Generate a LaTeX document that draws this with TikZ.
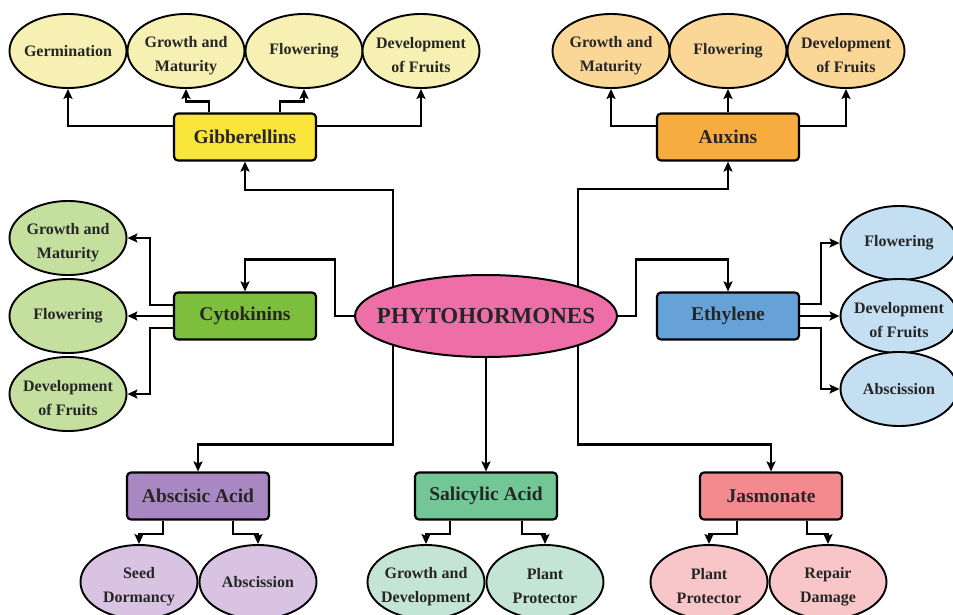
\documentclass[tikz,border=0pt]{standalone}
\usepackage{fontspec}
\setmainfont{Liberation Serif}
\usetikzlibrary{shapes.geometric,arrows.meta,backgrounds}

\definecolor{gibdark}{RGB}{249,229,58}
\definecolor{giblight}{RGB}{246,240,178}
\definecolor{auxdark}{RGB}{247,172,64}
\definecolor{auxlight}{RGB}{250,215,150}
\definecolor{cytdark}{RGB}{125,190,60}
\definecolor{cytlight}{RGB}{196,223,158}
\definecolor{ethdark}{RGB}{102,162,216}
\definecolor{ethlight}{RGB}{196,222,242}
\definecolor{phypink}{RGB}{238,110,168}
\definecolor{absdark}{RGB}{168,135,195}
\definecolor{abslight}{RGB}{216,196,226}
\definecolor{saldark}{RGB}{115,198,150}
\definecolor{sallight}{RGB}{196,228,214}
\definecolor{jasdark}{RGB}{242,138,142}
\definecolor{jaslight}{RGB}{248,198,200}

\begin{document}
\begin{tikzpicture}[x=1pt, y=-1pt,
		hormone/.style={draw, line width=2.2pt, rounded corners=4pt, minimum width=142pt, minimum height=47pt, text=black!85, font=\bfseries\fontsize{19.5}{22}\selectfont},
		effect/.style={draw, ellipse, line width=1.9pt, minimum width=117pt, minimum height=74pt, inner xsep=-12pt, inner ysep=0pt, align=center, text=black!85, font=\bfseries\fontsize{16}{24}\selectfont},
		effecttwo/.style={effect, execute at begin node={\rule{0pt}{44pt}}},
		link/.style={line width=2.2pt, -{Stealth[length=10pt, width=9pt, inset=2pt]}}]
	\useasboundingbox (0,0) rectangle (953,614);

	\node [ellipse, draw, line width=2pt, fill=phypink, minimum width=262pt, minimum height=82pt, inner xsep=-25pt, inner ysep=0pt, text=black!85, font=\bfseries\fontsize{23}{26}\selectfont] (phy) at (486,316) {PHYTOHORMONES};

	\node [hormone, fill=gibdark] (gib) at (245,137) {Gibberellins};
	\node [effect, fill=giblight] (gib1) at (68,51) {Germination};
	\node [effecttwo, fill=giblight] (gib2) at (186,51) {Growth and\\Maturity};
	\node [effect, fill=giblight] (gib3) at (304,51) {Flowering};
	\node [effecttwo, fill=giblight] (gib4) at (421,51) {Development\\of Fruits};

	\node [hormone, fill=auxdark] (aux) at (728,137) {Auxins};
	\node [effecttwo, fill=auxlight] (aux1) at (611,51) {Growth and\\Maturity};
	\node [effect, fill=auxlight] (aux2) at (728,51) {Flowering};
	\node [effecttwo, fill=auxlight] (aux3) at (846,51) {Development\\of Fruits};

	\node [hormone, fill=cytdark] (cyt) at (245,316) {Cytokinins};
	\node [effecttwo, fill=cytlight] (cyt1) at (68,238) {Growth and\\Maturity};
	\node [effect, fill=cytlight] (cyt2) at (68,316) {Flowering};
	\node [effecttwo, fill=cytlight] (cyt3) at (68,394) {Development\\of Fruits};

	\node [hormone, fill=ethdark] (eth) at (728,316) {Ethylene};
	\node [effect, fill=ethlight] (eth1) at (899,243) {Flowering};
	\node [effecttwo, fill=ethlight] (eth2) at (899,316) {Development\\of Fruits};
	\node [effect, fill=ethlight] (eth3) at (899,389) {Abscission};

	\node [hormone, fill=absdark] (abs) at (198,496) {Abscisic Acid};
	\node [effecttwo, fill=abslight] (abs1) at (139,582) {Seed\\Dormancy};
	\node [effect, fill=abslight] (abs2) at (258,582) {Abscission};

	\node [hormone, fill=saldark] (sal) at (486,496) {Salicylic Acid};
	\node [effecttwo, fill=sallight] (sal1) at (426,582) {Growth and\\Development};
	\node [effecttwo, fill=sallight] (sal2) at (545,582) {Plant\\Protector};

	\node [hormone, fill=jasdark] (jas) at (771,496) {Jasmonate};
	\node [effecttwo, fill=jaslight] (jas1) at (709,582) {Plant\\Protector};
	\node [effecttwo, fill=jaslight] (jas2) at (828,582) {Repair\\Damage};

	\begin{scope}[on background layer]
		\draw [link] ([xshift=-93pt]phy.center) |- ([yshift=-28pt]gib.south) -- (gib.south);
		\draw [link] ([xshift=92pt]phy.center) |- ([yshift=-27pt]aux.south) -- (aux.south);
		\draw [link] (phy.west) -- ++(-19,0) |- ([yshift=32pt]cyt.north) -- (cyt.north);
		\draw [link] (phy.east) -- ++(18,0) |- ([yshift=32pt]eth.north) -- (eth.north);
		\draw [link] ([xshift=-93pt]phy.center) |- ([yshift=27pt]abs.north) -- (abs.north);
		\draw [link] (phy.south) -- (sal.north);
		\draw [link] ([xshift=92pt]phy.center) |- ([yshift=27pt]jas.north) -- (jas.north);
	\end{scope}

	\draw [link] ([yshift=11pt]gib.west) -| (gib1.south);
	\draw [link] ([xshift=-36pt]gib.north) -- ++(0,-11) -| (gib2.south);
	\draw [link] ([xshift=35pt]gib.north) -- ++(0,-11) -| (gib3.south);
	\draw [link] ([yshift=11pt]gib.east) -| (gib4.south);

	\draw [link] ([yshift=11pt]aux.west) -| (aux1.south);
	\draw [link] (aux.north) -- (aux2.south);
	\draw [link] ([yshift=11pt]aux.east) -| (aux3.south);

	\draw [link] ([yshift=11pt]cyt.west) -- ++(-23,0) |- (cyt1.east);
	\draw [link] (cyt.west) -- (cyt2.east);
	\draw [link] ([yshift=-12pt]cyt.west) -- ++(-23,0) |- (cyt3.east);

	\draw [link] ([yshift=12pt]eth.east) -- ++(21,0) |- (eth1.west);
	\draw [link] (eth.east) -- (eth2.west);
	\draw [link] ([yshift=-12pt]eth.east) -- ++(21,0) |- (eth3.west);

	\draw [link] ([xshift=-35pt]abs.south) -- ++(0,13) -| (abs1.north);
	\draw [link] ([xshift=35pt]abs.south) -- ++(0,13) -| (abs2.north);

	\draw [link] ([xshift=-36pt]sal.south) -- ++(0,13) -| (sal1.north);
	\draw [link] ([xshift=36pt]sal.south) -- ++(0,13) -| (sal2.north);

	\draw [link] ([xshift=-34pt]jas.south) -- ++(0,13) -| (jas1.north);
	\draw [link] ([xshift=36pt]jas.south) -- ++(0,13) -| (jas2.north);
\end{tikzpicture}
\end{document}
